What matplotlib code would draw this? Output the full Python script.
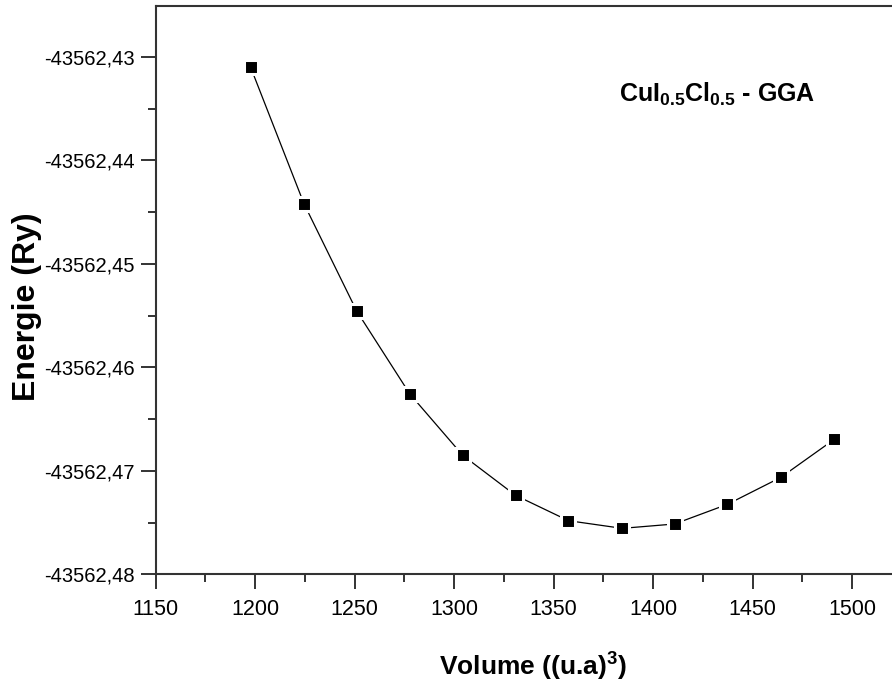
import matplotlib
matplotlib.use('Agg')
import matplotlib.pyplot as plt
from matplotlib.ticker import FuncFormatter, MultipleLocator

# volume (u.a)^3 and total energy (Ry)
volume = [1197.7, 1224.5, 1251.0, 1277.7, 1304.3, 1330.8,
          1357.4, 1384.4, 1410.7, 1437.3, 1464.2, 1491.0]
energy = [-43562.43102, -43562.44420, -43562.45457, -43562.46258,
          -43562.46851, -43562.47237, -43562.47482, -43562.47556,
          -43562.47514, -43562.47324, -43562.47063, -43562.46696]

x_ticks = [1150, 1200, 1250, 1300, 1350, 1400, 1450, 1500]
y_ticks = [-43562.48, -43562.47, -43562.46, -43562.45, -43562.44, -43562.43]

sans = ['Liberation Sans', 'DejaVu Sans']
plt.rcParams['mathtext.fontset'] = 'custom'
plt.rcParams['mathtext.rm'] = 'Liberation Sans'
plt.rcParams['mathtext.bf'] = 'Liberation Sans:bold'

fig = plt.figure(figsize=(8.92, 6.85), dpi=100)
ax = fig.add_axes([0.1746, 0.1616, 0.8254, 0.8296])

ax.plot(volume, energy, color='black', lw=0.9, marker='s', ms=10.1,
        mfc='black', mec='white', mew=2.2)

ax.set_xlim(1150, 1520)
ax.set_ylim(-43562.48, -43562.4251)
ax.set_xticks(x_ticks)
ax.set_yticks(y_ticks)
ax.xaxis.set_minor_locator(MultipleLocator(25))
ax.yaxis.set_minor_locator(MultipleLocator(0.005))
ax.yaxis.set_major_formatter(FuncFormatter(lambda v, p: f'{v:.2f}'.replace('.', ',')))

for s in ['left', 'bottom', 'top']:
    ax.spines[s].set_color('#333333')
    ax.spines[s].set_linewidth(1.5)
ax.spines['right'].set_visible(False)

ax.tick_params(which='major', direction='out', length=11, width=1.4, color='#333333')
ax.tick_params(which='minor', direction='out', length=6, width=1.4, color='#333333')
ax.tick_params(axis='y', which='both', right=False, pad=4)
ax.tick_params(axis='x', which='both', top=False, pad=7)
for lab in ax.get_yticklabels():
    lab.set_family(sans)
    lab.set_fontsize(14.5)
for lab in ax.get_xticklabels():
    lab.set_family(sans)
    lab.set_fontsize(15.5)

fig.text(0.030, 0.552, 'Energie (Ry)', rotation=90, ha='center', va='center',
         fontsize=23, fontweight='bold', family=sans)
fig.text(0.597, 0.029, r'Volume ((u.a)$^{\mathregular{3}}$)', ha='center', va='center',
         fontsize=19, fontweight='bold', family=sans)
ax.text(0.762, 0.845, r'CuI$_{\mathbf{0.5}}$Cl$_{\mathbf{0.5}}$ - GGA', transform=ax.transAxes,
        ha='center', va='center', fontsize=18, fontweight='bold', family=sans)

fig.savefig('out.png', dpi=100)
